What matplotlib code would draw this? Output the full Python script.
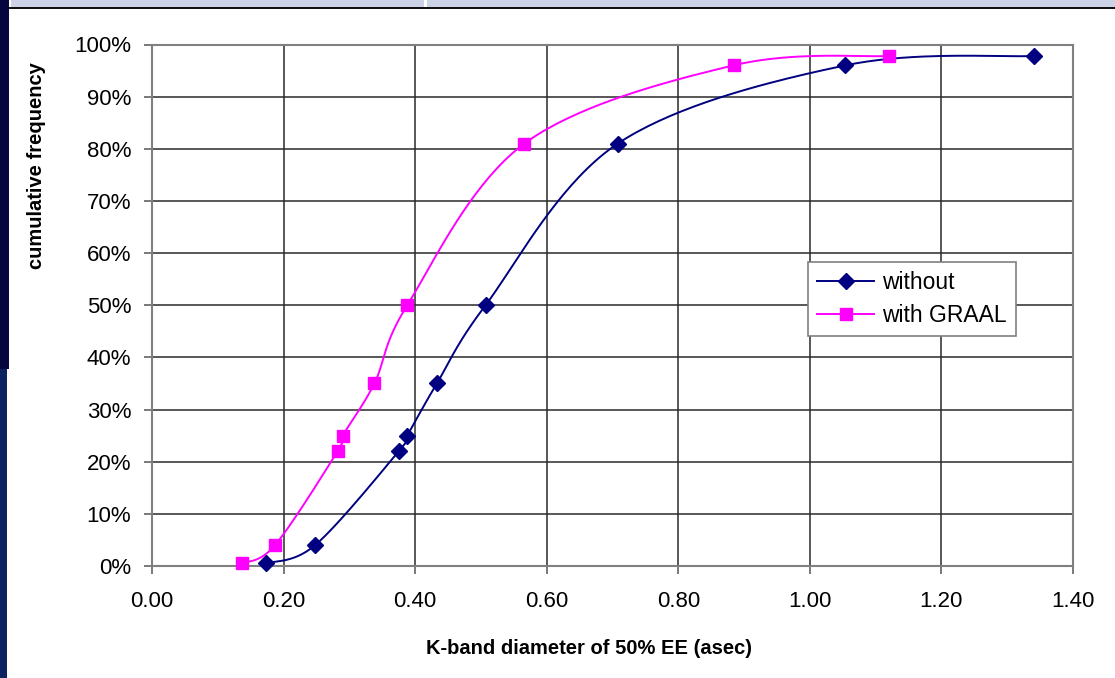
import numpy as np
import matplotlib
matplotlib.use("Agg")
import matplotlib.pyplot as plt
from matplotlib.patches import Rectangle
from matplotlib.lines import Line2D

# Cumulative frequency of K-band 50% encircled-energy diameters
freq = [0.005, 0.04, 0.22, 0.25, 0.35, 0.50, 0.81, 0.96, 0.978]
diam_without = [0.173, 0.248, 0.375, 0.388, 0.433, 0.507, 0.708, 1.054, 1.341]
diam_graal = [0.137, 0.187, 0.282, 0.290, 0.338, 0.388, 0.566, 0.884, 1.120]

series_names = ["without", "with GRAAL"]
series_colors = ["#000080", "#FF00FF"]
series_markers = ["D", "s"]
marker_sizes = [7.8, 8.5]

x_ticks = [0.0, 0.2, 0.4, 0.6, 0.8, 1.0, 1.2, 1.4]
y_ticks = [0.0, 0.1, 0.2, 0.3, 0.4, 0.5, 0.6, 0.7, 0.8, 0.9, 1.0]


def smooth_curve(x, y, n=40):
    """Cubic Bezier smoothing through the points (Catmull-Rom style)."""
    p = np.column_stack([x, y]).astype(float)
    ext = np.vstack([p[0], p, p[-1]])
    t = np.linspace(0, 1, n)[:, None]
    out = []
    for i in range(1, len(ext) - 2):
        p0, p1, p2, p3 = ext[i - 1], ext[i], ext[i + 1], ext[i + 2]
        c1 = p1 + (p2 - p0) / 6.0
        c2 = p2 - (p3 - p1) / 6.0
        seg = ((1 - t) ** 3) * p1 + 3 * ((1 - t) ** 2) * t * c1 + 3 * (1 - t) * t ** 2 * c2 + t ** 3 * p2
        out.append(seg if i == 1 else seg[1:])
    s = np.vstack(out)
    return s[:, 0], s[:, 1]


plt.rcParams["font.family"] = ["Liberation Sans", "DejaVu Sans"]

W, H = 1115, 678
fig = plt.figure(figsize=(W / 100, H / 100), dpi=100)
fig.patch.set_facecolor("white")

# slide frame pieces around the chart
fig.add_artist(Rectangle((11 / W, 1 - 7.5 / H), 1 - 11 / W, 7.5 / H, transform=fig.transFigure,
                         facecolor="#CDD3E6", edgecolor="none", zorder=0))
fig.add_artist(Rectangle((424 / W, 1 - 7.5 / H), 3 / W, 7.5 / H, transform=fig.transFigure,
                         facecolor="white", edgecolor="none", zorder=0))
fig.add_artist(Rectangle((9 / W, 1 - 8.5 / H), 1 - 9 / W, 1.3 / H, transform=fig.transFigure,
                         facecolor="#111111", edgecolor="none", zorder=0))
fig.add_artist(Rectangle((0, 1 - 369 / H), 9 / W, 369 / H, transform=fig.transFigure,
                         facecolor="#06063E", edgecolor="none", zorder=0))
fig.add_artist(Rectangle((0, 0), 7 / W, 1 - 369 / H, transform=fig.transFigure,
                         facecolor="#0B2360", edgecolor="none", zorder=0))

ax = fig.add_axes([152 / W, 1 - 566 / H, (1073 - 152) / W, (566 - 44.5) / H])
ax.set_xlim(0, 1.4)
ax.set_ylim(0, 1.0)
ax.set_xticks(x_ticks)
ax.set_yticks(y_ticks)
ax.set_xticklabels([f"{v:.2f}" for v in x_ticks])
ax.set_yticklabels([f"{int(round(v * 100))}%" for v in y_ticks])
ax.grid(True, color="#2a2a2a", linewidth=1.1)
ax.set_axisbelow(True)
for sp in ax.spines.values():
    sp.set_color("#808080")
    sp.set_linewidth(1.5)
ax.tick_params(direction="out", length=6, width=1.1, color="#555555",
               labelsize=16, colors="black")
ax.tick_params(axis="y", pad=9)
ax.tick_params(axis="x", pad=12)

for xs, name, col, mk, ms in zip([diam_without, diam_graal], series_names,
                                 series_colors, series_markers, marker_sizes):
    sx, sy = smooth_curve(xs, freq)
    ax.plot(sx, sy, color=col, linewidth=1.4, zorder=3, clip_on=False)
    ax.plot(xs, freq, linestyle="none", marker=mk, color=col,
            markersize=ms, zorder=4, clip_on=False)

# axis titles
fig.text(589 / W, 1 - 648 / H, "K-band diameter of 50% EE (asec)", fontsize=14.5,
         fontweight="bold", ha="center", va="center")
fig.text(37 / W, 1 - 166 / H, "cumulative frequency", fontsize=14.5,
         fontweight="bold", ha="center", va="center", rotation=90)

handles = [Line2D([], [], color=c, marker=m, markersize=ms, linewidth=1.4)
           for c, m, ms in zip(series_colors, series_markers, marker_sizes)]
leg = ax.legend(handles, series_names, loc="upper left",
                bbox_to_anchor=(808 / W, 1 - 262 / H), bbox_transform=fig.transFigure,
                fontsize=16.5, frameon=True, fancybox=False, framealpha=1,
                edgecolor="#808080", handlelength=2.5, handletextpad=0.35,
                borderpad=0.4, labelspacing=0.42, borderaxespad=0)
leg.get_frame().set_linewidth(1.2)

fig.savefig("out.png", dpi=100)
